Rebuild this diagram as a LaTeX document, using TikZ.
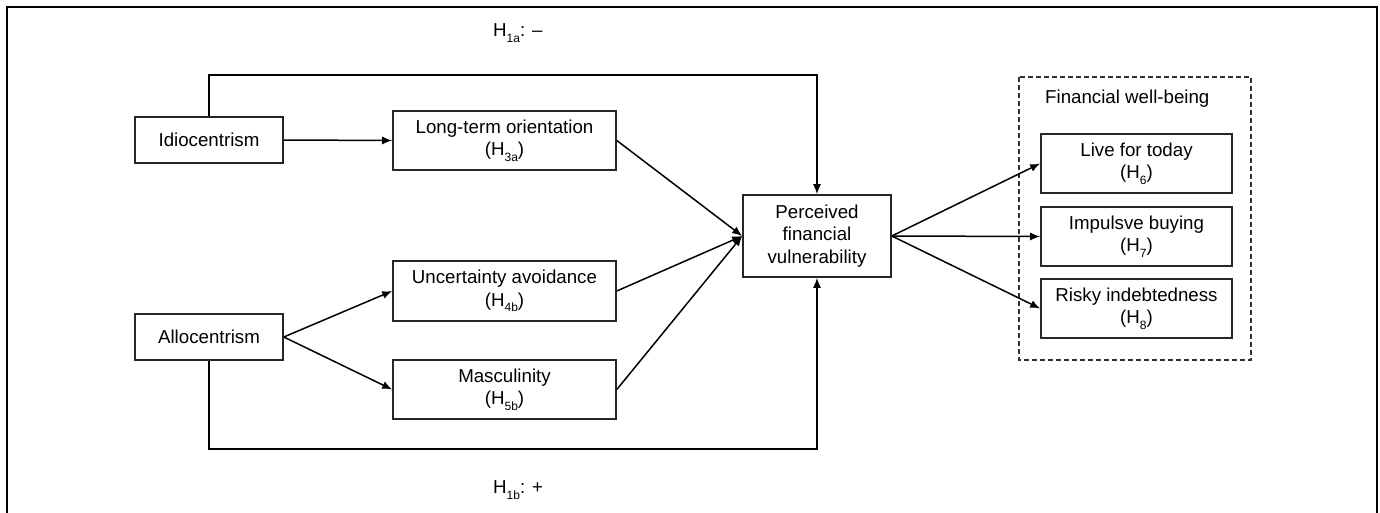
\documentclass[tikz,border=0pt]{standalone}
\usepackage{fontspec}
\setmainfont{Liberation Sans}
\usetikzlibrary{arrows.meta}
\newcommand{\hs}[1]{\raisebox{-0.3em}{\fontsize{12}{12}\selectfont #1}}
\tikzset{
  box/.style={draw=black!85, line width=1.6pt, align=center, inner sep=0pt,
    font=\fontsize{18.7}{22.5}\selectfont},
  arr/.style={line width=1.5pt, -{Latex[length=10pt,width=8pt]}},
  lbl/.style={font=\fontsize{18.7}{22.5}\selectfont, inner sep=0pt}
}
\begin{document}
\begin{tikzpicture}[x=1pt,y=-1pt]
\useasboundingbox (0,0) rectangle (1380,513);
\draw[line width=1.5pt] (7,530) -- (7,7) -- (1377,7) -- (1377,530);

\node[box, minimum width=148pt, minimum height=46pt] (idio) at (209,140) {Idiocentrism};
\node[box, minimum width=148pt, minimum height=46pt] (allo) at (209,337) {Allocentrism};
\node[box, minimum width=223pt, minimum height=59pt] (lto) at (504.5,140.5) {Long-term orientation\\(H\hs{3a})};
\node[box, minimum width=223pt, minimum height=60pt] (ua) at (504.5,291) {Uncertainty avoidance\\(H\hs{4b})};
\node[box, minimum width=223pt, minimum height=59pt] (mas) at (504.5,389.5) {Masculinity\\(H\hs{5b})};
\node[box, minimum width=148pt, minimum height=82pt] (pfv) at (817,236) {Perceived\\financial\\vulnerability};

\draw[line width=1.3pt, dashed, dash pattern=on 5pt off 3pt, draw=black!80] (1019,77) rectangle (1251,360);
\node[lbl, anchor=west] (fwb) at (1045,99) {Financial well-being};
\node[box, minimum width=191pt, minimum height=59pt] (live) at (1136.5,163.5) {Live for today\\(H\hs{6})};
\node[box, minimum width=191pt, minimum height=59pt] (imp) at (1136.5,236.5) {Impulsve buying\\(H\hs{7})};
\node[box, minimum width=191pt, minimum height=59pt] (risk) at (1136.5,308.5) {Risky indebtedness\\(H\hs{8})};

\node[lbl, anchor=west] (h1a) at (493,33) {H\hs{1a}: –};
\node[lbl, anchor=west] (h1b) at (493,490) {H\hs{1b}: +};

\coordinate (tl) at (209,75);
\coordinate (bl) at (209,449);
\draw[arr] (idio.north) -- (tl) -| (pfv.north);
\draw[arr] (allo.south) -- (bl) -| (pfv.south);

\draw[arr] (idio.east) -- (lto.west);
\draw[arr] (allo.east) -- (ua.west);
\draw[arr] (allo.east) -- (mas.west);

\draw[arr] (lto.east) -- (pfv.west);
\draw[arr] (ua.east) -- (pfv.west);
\draw[arr] (mas.east) -- (pfv.west);

\draw[arr] (pfv.east) -- (live.west);
\draw[arr] (pfv.east) -- (imp.west);
\draw[arr] (pfv.east) -- (risk.west);
\end{tikzpicture}
\end{document}
